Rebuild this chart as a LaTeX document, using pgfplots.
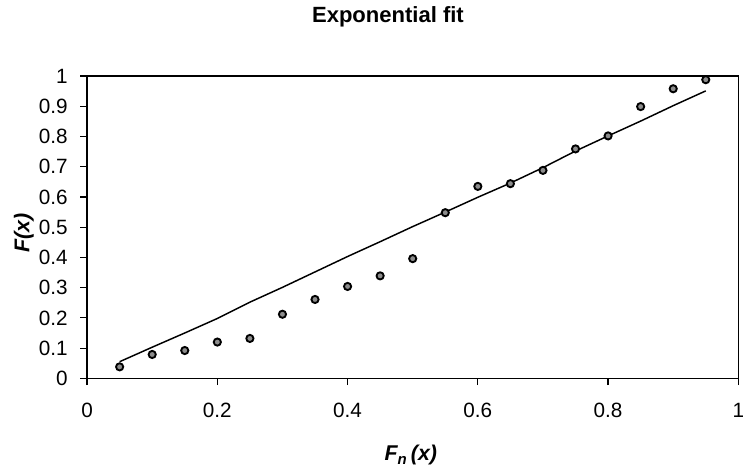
\documentclass[border=0pt]{standalone}
\usepackage{fontspec}
\setmainfont{Liberation Sans}
\usepackage{pgfplots}
\pgfplotsset{compat=1.18}
\begin{document}
\begin{tikzpicture}
\begin{axis}[
  name=ax,
  scale only axis,
  width=488pt, height=226.5pt,
  xmin=0, xmax=1, ymin=0, ymax=1,
  xtick={0,0.2,0.4,0.6,0.8,1},
  ytick={0,0.1,0.2,0.3,0.4,0.5,0.6,0.7,0.8,0.9,1},
  xticklabels={0,0.2,0.4,0.6,0.8,1},
  yticklabels={0,0.1,0.2,0.3,0.4,0.5,0.6,0.7,0.8,0.9,1},
  tick align=outside,
  xtick pos=bottom, ytick pos=left,
  major tick length=5pt,
  tick style={black, line width=0.9pt},
  axis line style={black, line width=1.1pt},
  ticklabel style={font=\fontsize{15.5}{17}\selectfont},
  xticklabel style={yshift=-10pt},
  yticklabel style={xshift=-6pt},
  /pgf/number format/assume math mode=true,
  title={\textbf{Exponential fit}},
  title style={at={(axis description cs:0.462,1.17)}, anchor=center, font=\fontsize{16.5}{19}\selectfont},
  xlabel={\textbf{\textit{F\textsubscript{n}\,(x)}}},
  xlabel style={at={(axis description cs:0.497,-0.255)}, anchor=center, font=\fontsize{16}{19}\selectfont},
  ylabel={\textbf{\textit{F(x)}}},
  ylabel style={at={(axis description cs:-0.097,0.48)}, anchor=center, rotate=0, font=\fontsize{16}{19}\selectfont},
  clip=false,
]
\addplot[black, line width=1.1pt] coordinates {
(0.05,0.055) (0.10,0.103) (0.15,0.150) (0.20,0.198) (0.25,0.252)
(0.30,0.301) (0.35,0.352) (0.40,0.403) (0.45,0.452) (0.50,0.502)
(0.55,0.550) (0.60,0.599) (0.65,0.646) (0.70,0.697) (0.75,0.752)
(0.80,0.802) (0.85,0.851) (0.90,0.902) (0.95,0.951)
};
\addplot[only marks, mark=*, mark size=2.7pt, mark options={draw=black, fill=black!45, line width=1.4pt}] coordinates {
(0.05,0.038) (0.10,0.079) (0.15,0.092) (0.20,0.120) (0.25,0.132)
(0.30,0.212) (0.35,0.261) (0.40,0.304) (0.45,0.339) (0.50,0.396)
(0.55,0.548) (0.60,0.635) (0.65,0.644) (0.70,0.688) (0.75,0.759)
(0.80,0.802) (0.85,0.899) (0.90,0.958) (0.95,0.988)
};
\end{axis}
\pgfresetboundingbox
\path[use as bounding box] ([xshift=-65.25pt,yshift=-69pt]ax.south west) rectangle ([xshift=5pt,yshift=57pt]ax.north east);
\end{tikzpicture}
\end{document}
